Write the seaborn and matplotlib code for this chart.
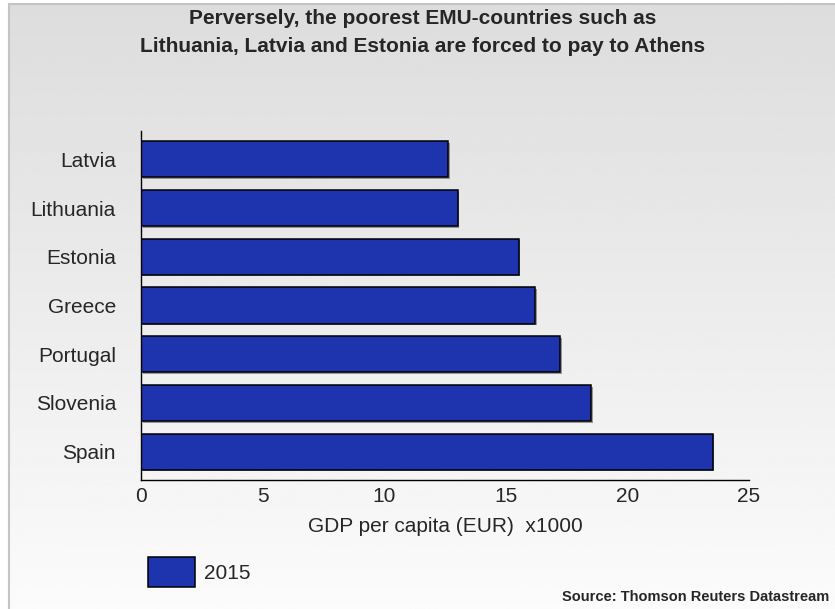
import numpy as np
import pandas as pd
import seaborn as sns
import matplotlib.pyplot as plt
from matplotlib import patheffects
from matplotlib.ticker import MultipleLocator

# GDP per capita in 2015, thousands of euros
countries = ["Latvia", "Lithuania", "Estonia", "Greece", "Portugal", "Slovenia", "Spain"]
gdp_2015 = [12.64, 13.02, 15.53, 16.20, 17.23, 18.52, 23.51]
series_label = "2015"

title_lines = ["Perversely, the poorest EMU-countries such as",
               "Lithuania, Latvia and Estonia are forced to pay to Athens"]
x_label = "GDP per capita (EUR)  x1000"
source = "Source: Thomson Reuters Datastream"

df = pd.DataFrame({"country": countries, "gdp": gdp_2015})

sns.set_style("white")
plt.rcParams["font.family"] = ["Liberation Sans", "DejaVu Sans"]

W, H, DPI = 835, 609, 100
fig = plt.figure(figsize=(W / DPI, H / DPI), dpi=DPI, facecolor="white")

# grey-to-white vertical gradient panel with a thin frame
bg = fig.add_axes([9 / W, 0, 1 - 9 / W, 1 - 4 / H], zorder=0)
grad = np.linspace(0.865, 0.985, 256).reshape(-1, 1)
bg.imshow(grad, aspect="auto", cmap="gray", vmin=0, vmax=1,
          extent=[0, 1, 0, 1], origin="upper")
bg.set_xlim(0, 1)
bg.set_ylim(0, 1)
bg.set_axis_off()
fig.add_artist(plt.Line2D([9 / W, 9 / W], [0, 1 - 4 / H], color="#c4c4c4", lw=1.5,
                          transform=fig.transFigure))
fig.add_artist(plt.Line2D([9 / W, 1], [1 - 4 / H, 1 - 4 / H], color="#c4c4c4", lw=1.5,
                          transform=fig.transFigure))

ax_l, ax_r = 141 / W, 749 / W
ax_b, ax_t = 1 - 479.5 / H, 1 - 131.5 / H
ax = fig.add_axes([ax_l, ax_b, ax_r - ax_l, ax_t - ax_b], zorder=1)
ax.patch.set_alpha(0)

bar_color = "#1e33ae"
sns.barplot(data=df, x="gdp", y="country", orient="h", color=bar_color,
            saturation=1, edgecolor="black", linewidth=1.1, width=0.74,
            label=series_label, ax=ax)
for p in ax.patches:
    p.set_path_effects([patheffects.SimplePatchShadow(offset=(1.2, -1.2),
                                                      shadow_rgbFace="#707070", alpha=0.7),
                        patheffects.Normal()])

ax.set_xlim(0, 25)
ax.set_ylim(6.57, -0.57)
ax.xaxis.set_major_locator(MultipleLocator(5))
ax.xaxis.set_minor_locator(MultipleLocator(1))
ax.tick_params(axis="x", which="major", direction="out", length=4.5, width=1,
               color="black", labelsize=15, pad=1)
ax.tick_params(axis="x", which="minor", direction="out", length=2.5, width=1,
               color="black")
ax.tick_params(axis="y", which="major", direction="out", length=3.5, width=1,
               color="black", labelsize=15, pad=14.5)
ax.set_xlabel(x_label, fontsize=15, labelpad=7.5)
ax.set_ylabel("")

for side in ["top", "right"]:
    ax.spines[side].set_visible(False)
for side in ["left", "bottom"]:
    ax.spines[side].set_color("black")
    ax.spines[side].set_linewidth(1)

for y_px, line in zip([18, 47], title_lines):
    fig.text(423 / W, 1 - y_px / H, line, ha="center", va="center", fontsize=15,
             fontweight="bold")

leg = ax.legend(loc="center left", bbox_to_anchor=(148 / W, 1 - 572 / H),
                bbox_transform=fig.transFigure, frameon=False, fontsize=15,
                handlelength=2.26, handleheight=1.91, handletextpad=0.45,
                borderpad=0, borderaxespad=0)
for h in leg.legend_handles:
    h.set_path_effects([])

fig.text(829 / W, 1 - 597 / H, source, ha="right", va="center", fontsize=10.5,
         fontweight="bold")

fig.savefig("out.png", dpi=DPI, facecolor="white")
